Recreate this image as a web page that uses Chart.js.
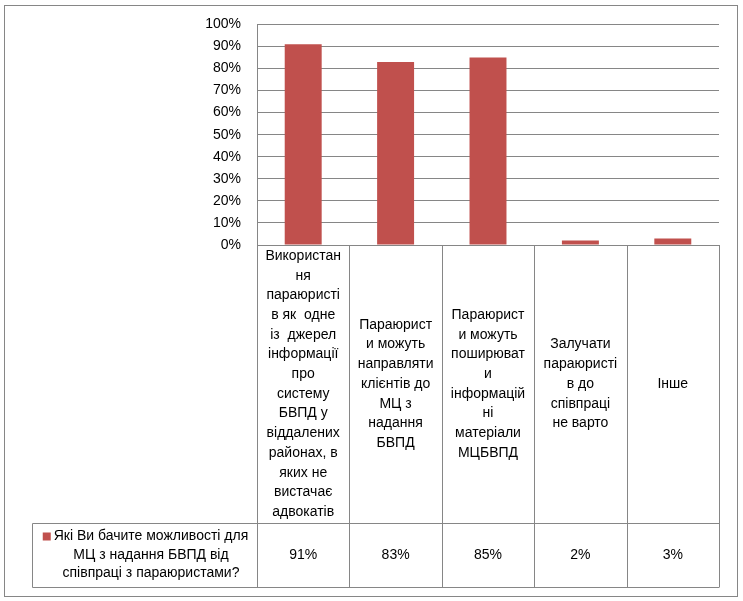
<!DOCTYPE html>
<html>
<head>
<meta charset="utf-8">
<script src="https://cdn.jsdelivr.net/npm/chart.js@4/dist/chart.umd.min.js"></script>
<style>
  html, body { margin: 0; padding: 0; background: #fff; }
  canvas { display: block; }
</style>
</head>
<body>
<canvas id="chart" width="743" height="601"></canvas>
<script>
// ═══════════════════════════════════════════════════
//  DATA
// ═══════════════════════════════════════════════════
const categories = [
  ['Використан','ня','параюристі','в як  одне','із  джерел','інформації','про','систему','БВПД у','віддалених','районах, в','яких не','вистачає','адвокатів'],
  ['Параюрист','и можуть','направляти','клієнтів до','МЦ з','надання','БВПД'],
  ['Параюрист','и можуть','поширюват','и','інформацій','ні','матеріали','МЦБВПД'],
  ['Залучати','параюристі','в до','співпраці','не варто'],
  ['Інше'],
];
const values     = [91, 83, 85, 2, 3];
const seriesName = ['Які Ви бачите можливості для', 'МЦ з надання БВПД від', 'співпраці з параюристами?'];
const yMax  = 100;
const yStep = 10;

// ─── Look ────────────────────────────────────────────
const BAR   = '#C0504D';
const LINE  = '#868686';
const TEXT  = '#000000';
const FONT  = 'Liberation Sans';
const FSIZE = 14;

// ─── Table under the plot (category row + values row) ─
const tablePlugin = {
  id: 'dataTable',
  beforeDraw(chart) {
    const { ctx, width, height } = chart;
    ctx.save();
    ctx.fillStyle = '#fff';
    ctx.fillRect(0, 0, width, height);
    ctx.restore();
  },
  afterDraw(chart) {
    const { ctx, chartArea: a, scales: { x } } = chart;
    const colW   = (a.right - a.left) / categories.length;
    const rowTop = a.bottom, catBottom = 523, valBottom = 587, nameLeft = 32;
    const px = v => Math.round(v) + 0.5;

    ctx.save();
    ctx.strokeStyle = LINE;
    ctx.lineWidth = 1;

    // outer chart frame
    ctx.strokeRect(4.5, 5.5, 733, 591);

    // table grid
    ctx.beginPath();
    for (let i = 0; i <= categories.length; i++) {
      const cx = px(x.getPixelForValue(i) - colW / 2);
      ctx.moveTo(cx, rowTop); ctx.lineTo(cx, valBottom);
    }
    ctx.moveTo(px(nameLeft), px(catBottom)); ctx.lineTo(px(a.right), px(catBottom));
    ctx.moveTo(px(nameLeft), px(valBottom)); ctx.lineTo(px(a.right), px(valBottom));
    ctx.moveTo(px(nameLeft), px(catBottom)); ctx.lineTo(px(nameLeft), px(valBottom));
    ctx.stroke();

    ctx.fillStyle = TEXT;
    ctx.font = `${FSIZE}px "${FONT}"`;
    ctx.textAlign = 'center';
    ctx.textBaseline = 'middle';

    // category labels, centred in their cells
    const lh = 19.7;
    const midCat = (rowTop + catBottom) / 2;
    categories.forEach((lines, i) => {
      const cx = x.getPixelForValue(i);
      const y0 = midCat - (lines.length - 1) * lh / 2;
      lines.forEach((t, k) => ctx.fillText(t, cx, y0 + k * lh));
    });

    // values row
    const midVal = (catBottom + valBottom) / 2;
    values.forEach((v, i) => ctx.fillText(v + '%', x.getPixelForValue(i), midVal));

    // series name with legend key
    const nlh = 18.5;
    const nameMid = 151;
    const ny0 = midVal - (seriesName.length - 1) * nlh / 2;
    seriesName.forEach((t, k) => ctx.fillText(t, nameMid, ny0 + k * nlh));
    const w0 = ctx.measureText(seriesName[0]).width;
    ctx.fillStyle = BAR;
    ctx.fillRect(nameMid - w0 / 2 - 11, ny0 - 4, 8, 8);

    ctx.restore();
  },
};

new Chart(document.getElementById('chart'), {
  type: 'bar',
  data: {
    labels: categories.map(l => l.join(' ')),
    datasets: [{
      data: values,
      backgroundColor: BAR,
      borderWidth: 0,
      categoryPercentage: 1,
      barPercentage: 0.4,
    }],
  },
  options: {
    responsive: false,
    animation: false,
    devicePixelRatio: 1,
    layout: { padding: { left: 0, right: 24, top: 22, bottom: 356 } },
    plugins: { legend: { display: false }, tooltip: { enabled: false } },
    scales: {
      x: { display: false },
      y: {
        min: 0, max: yMax,
        afterFit: s => { s.width = 257; },
        grid: { color: LINE, drawTicks: false },
        border: { color: LINE },
        ticks: {
          stepSize: yStep, padding: 16, color: TEXT,
          font: { family: FONT, size: FSIZE },
          callback: v => v + '%',
        },
      },
    },
  },
  plugins: [tablePlugin],
});
</script>
</body>
</html>
